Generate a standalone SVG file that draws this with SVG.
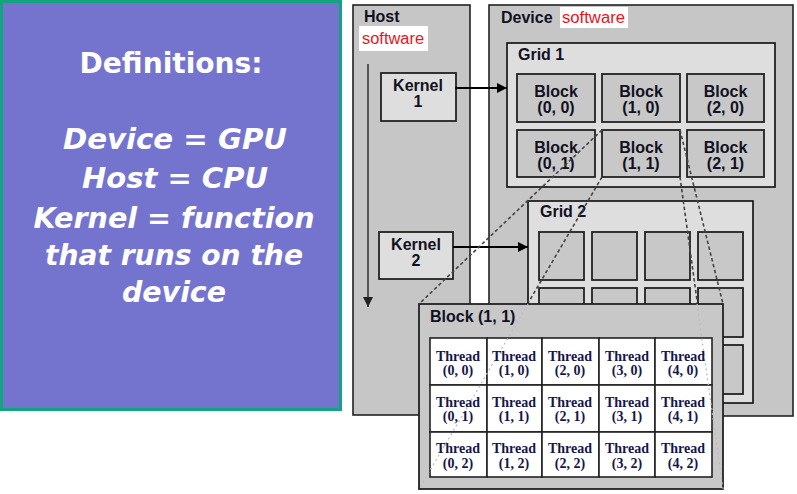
<svg xmlns="http://www.w3.org/2000/svg" width="797" height="494" viewBox="0 0 797 494">
<defs>
<marker id="ah" viewBox="0 0 10 10" refX="10" refY="5" markerWidth="5" markerHeight="5" orient="auto" markerUnits="strokeWidth"><path d="M0,0 L10,5 L0,10 z" fill="#000"/></marker>
<marker id="ahg" viewBox="0 0 10 10" refX="10" refY="5" markerWidth="5.5" markerHeight="5" orient="auto" markerUnits="strokeWidth"><path d="M0,0 L10,5 L0,10 z" fill="#222"/></marker>
<style>
.def{font-family:"DejaVu Sans",Verdana,sans-serif;font-weight:bold;fill:#fff;text-anchor:middle}
.it{font-style:italic}
.lbl{font-family:"Liberation Sans",Arial,sans-serif;font-weight:bold;font-size:16px;fill:#111122}
.ctr{text-anchor:middle}
.sw{font-family:"Liberation Sans",Arial,sans-serif;font-size:16px;fill:#e8141e}
.panel{fill:#c6c6c6;stroke:#222;stroke-width:1.6}
.light{fill:#dedede;stroke:#222;stroke-width:1.8}
.blk{fill:#c8c8c8;stroke:#222;stroke-width:1.8}
.cell{fill:#fff;stroke:#222;stroke-width:1.6}
.thr{font-family:"Liberation Serif","Times New Roman",serif;font-weight:bold;font-size:14px;fill:#16164a;text-anchor:middle}
.dash{stroke:#444;stroke-width:1.6;stroke-dasharray:3.5 2.5;fill:none}
.faint{stroke:#bbb;stroke-width:1.2;stroke-dasharray:2 3;fill:none}
</style>
</defs>
<rect width="797" height="494" fill="#fff"/>

<g id="definitions">
<rect x="1.5" y="1.5" width="339" height="408" fill="#7474cf" stroke="#12a37f" stroke-width="3"/>
<text class="def" x="171" y="73" font-size="28" textLength="183" lengthAdjust="spacingAndGlyphs">Definitions:</text>
<text class="def it" x="175" y="149" font-size="28.5" textLength="224" lengthAdjust="spacingAndGlyphs">Device = GPU</text>
<text class="def it" x="175" y="188" font-size="28.5" textLength="186" lengthAdjust="spacingAndGlyphs">Host = CPU</text>
<text class="def it" x="174" y="228" font-size="28.5" textLength="281" lengthAdjust="spacingAndGlyphs">Kernel = function</text>
<text class="def it" x="174" y="265" font-size="28.5" textLength="258" lengthAdjust="spacingAndGlyphs">that runs on the</text>
<text class="def it" x="174" y="302" font-size="28.5" textLength="104" lengthAdjust="spacingAndGlyphs">device</text>
</g>

<g id="host">
<rect class="panel" x="353" y="5" width="117" height="410"/>
<text class="lbl" x="364" y="22">Host</text>
<rect x="359" y="26" width="69" height="25" fill="#fff"/>
<text class="sw" x="362" y="44" textLength="62" lengthAdjust="spacingAndGlyphs">software</text>
</g>

<g id="device">
<rect class="panel" x="489" y="5" width="304" height="411"/>
<text class="lbl" x="501" y="23">Device</text>
<rect x="560" y="7" width="68" height="21" fill="#fff"/>
<text class="sw" x="562" y="23" textLength="63" lengthAdjust="spacingAndGlyphs">software</text>
</g>

<g id="kernel1">
<rect class="light" x="381" y="73" width="75" height="48"/>
<text class="lbl ctr" x="418" y="91">Kernel</text>
<text class="lbl ctr" x="418" y="107">1</text>
</g>

<g id="kernel2">
<rect class="light" x="379" y="232" width="74" height="47"/>
<text class="lbl ctr" x="416" y="250">Kernel</text>
<text class="lbl ctr" x="416" y="266">2</text>
</g>

<g id="grid1">
<rect class="light" x="507" y="43" width="268" height="144"/>
<text class="lbl" x="518" y="60">Grid 1</text>
</g>
<g id="block00"><rect class="blk" x="517" y="74" width="78" height="48"/><text class="lbl ctr" x="556" y="97">Block</text><text class="lbl ctr" x="556" y="113">(0, 0)</text></g>
<g id="block10"><rect class="blk" x="602" y="74" width="78" height="48"/><text class="lbl ctr" x="641" y="97">Block</text><text class="lbl ctr" x="641" y="113">(1, 0)</text></g>
<g id="block20"><rect class="blk" x="687" y="74" width="77" height="48"/><text class="lbl ctr" x="725.5" y="97">Block</text><text class="lbl ctr" x="725.5" y="113">(2, 0)</text></g>
<g id="block01"><rect class="blk" x="517" y="130" width="78" height="47"/><text class="lbl ctr" x="556" y="153">Block</text><text class="lbl ctr" x="556" y="169">(0, 1)</text></g>
<g id="block11"><rect class="blk" x="602" y="130" width="78" height="47"/><text class="lbl ctr" x="641" y="153">Block</text><text class="lbl ctr" x="641" y="169">(1, 1)</text></g>
<g id="block21"><rect class="blk" x="687" y="130" width="77" height="47"/><text class="lbl ctr" x="725.5" y="153">Block</text><text class="lbl ctr" x="725.5" y="169">(2, 1)</text></g>

<g id="grid2">
<rect class="light" x="528" y="201" width="225" height="202"/>
<text class="lbl" x="540" y="217">Grid 2</text>
<g class="blk">
<rect x="539" y="232" width="45" height="48"/><rect x="592" y="232" width="45" height="48"/><rect x="645" y="232" width="45" height="48"/><rect x="698" y="232" width="45" height="48"/>
<rect x="539" y="288" width="45" height="49"/><rect x="592" y="288" width="45" height="49"/><rect x="645" y="288" width="45" height="49"/><rect x="698" y="288" width="45" height="49"/>
<rect x="539" y="345" width="45" height="49"/><rect x="592" y="345" width="45" height="49"/><rect x="645" y="345" width="45" height="49"/><rect x="698" y="345" width="45" height="49"/>
</g>
</g>

<g id="connectors">
<line x1="368" y1="64" x2="368" y2="307" stroke="#555" stroke-width="2" marker-end="url(#ahg)"/>
<line x1="455" y1="88" x2="507" y2="88" stroke="#000" stroke-width="2" marker-end="url(#ah)"/>
<line x1="453" y1="247" x2="528" y2="247" stroke="#000" stroke-width="2" marker-end="url(#ah)"/>
<line class="dash" x1="602" y1="130" x2="419" y2="304"/>
<line class="dash" x1="602" y1="177" x2="419" y2="489"/>
<line class="dash" x1="680" y1="130" x2="723" y2="304"/>
<line class="dash" x1="680" y1="177" x2="723" y2="489"/>
</g>

<g id="block11-detail">
<rect class="blk" x="419" y="304" width="304" height="185"/>
<text class="lbl" x="430" y="322" font-size="16.5">Block (1, 1)</text>
<rect class="cell" x="430" y="338" width="57" height="47"/><rect class="cell" x="487" y="338" width="55" height="47"/><rect class="cell" x="542" y="338" width="57" height="47"/><rect class="cell" x="599" y="338" width="56" height="47"/><rect class="cell" x="655" y="338" width="57" height="47"/>
<rect class="cell" x="430" y="385" width="57" height="47"/><rect class="cell" x="487" y="385" width="55" height="47"/><rect class="cell" x="542" y="385" width="57" height="47"/><rect class="cell" x="599" y="385" width="56" height="47"/><rect class="cell" x="655" y="385" width="57" height="47"/>
<rect class="cell" x="430" y="432" width="57" height="45"/><rect class="cell" x="487" y="432" width="55" height="45"/><rect class="cell" x="542" y="432" width="57" height="45"/><rect class="cell" x="599" y="432" width="56" height="45"/><rect class="cell" x="655" y="432" width="57" height="45"/>
<line class="faint" x1="528" y1="304" x2="419" y2="489"/>
<line class="faint" x1="697" y1="304" x2="723" y2="489"/>
<text class="thr" x="458" y="361">Thread</text><text class="thr" x="458" y="375">(0, 0)</text>
<text class="thr" x="514" y="361">Thread</text><text class="thr" x="514" y="375">(1, 0)</text>
<text class="thr" x="570" y="361">Thread</text><text class="thr" x="570" y="375">(2, 0)</text>
<text class="thr" x="627" y="361">Thread</text><text class="thr" x="627" y="375">(3, 0)</text>
<text class="thr" x="683" y="361">Thread</text><text class="thr" x="683" y="375">(4, 0)</text>
<text class="thr" x="458" y="407">Thread</text><text class="thr" x="458" y="421">(0, 1)</text>
<text class="thr" x="514" y="407">Thread</text><text class="thr" x="514" y="421">(1, 1)</text>
<text class="thr" x="570" y="407">Thread</text><text class="thr" x="570" y="421">(2, 1)</text>
<text class="thr" x="627" y="407">Thread</text><text class="thr" x="627" y="421">(3, 1)</text>
<text class="thr" x="683" y="407">Thread</text><text class="thr" x="683" y="421">(4, 1)</text>
<text class="thr" x="458" y="453">Thread</text><text class="thr" x="458" y="468">(0, 2)</text>
<text class="thr" x="514" y="453">Thread</text><text class="thr" x="514" y="468">(1, 2)</text>
<text class="thr" x="570" y="453">Thread</text><text class="thr" x="570" y="468">(2, 2)</text>
<text class="thr" x="627" y="453">Thread</text><text class="thr" x="627" y="468">(3, 2)</text>
<text class="thr" x="683" y="453">Thread</text><text class="thr" x="683" y="468">(4, 2)</text>
</g>
</svg>
